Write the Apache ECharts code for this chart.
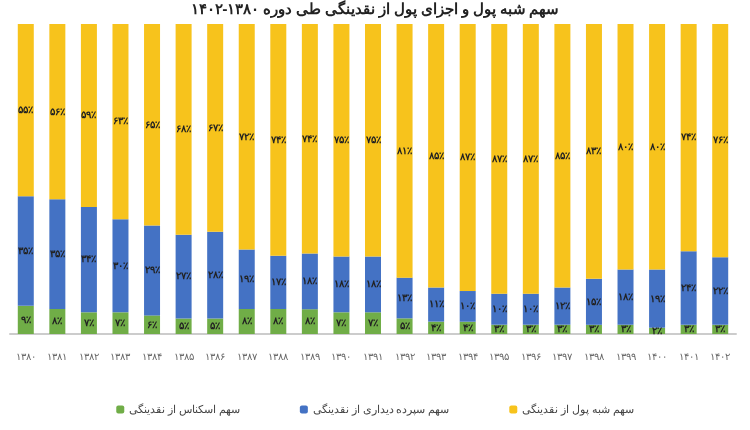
<!DOCTYPE html>
<html>
<head>
<meta charset="utf-8">
<script src="https://cdn.jsdelivr.net/npm/echarts@6/dist/echarts.min.js"></script>
<style>html,body{margin:0;padding:0;background:#fff}#c{width:750px;height:430px}</style>
</head>
<body>
<div id="c"></div>
<script>
var years = ['1380','1381','1382','1383','1384','1385','1386','1387','1388','1389','1390','1391','1392','1393','1394','1395','1396','1397','1398','1399','1400','1401','1402'];
var cash = [9,8,7,7,6,5,5,8,8,8,7,7,5,4,4,3,3,3,3,3,2,3,3];
var demand = [35,35,34,30,29,27,28,19,17,18,18,18,13,11,10,10,10,12,15,18,19,24,22];
var quasi = [55,56,59,63,65,68,67,72,74,74,75,75,81,85,87,87,87,85,83,80,80,74,76];

function fa(s) {
	return String(s).replace(/[0-9]/g, function (d) { return '۰۱۲۳۴۵۶۷۸۹'[d]; });
}
// every bar is drawn at full height (100% stacked), labels keep the read values
function share(arr) {
	return arr.map(function (v, i) {
		return { value: v / (cash[i] + demand[i] + quasi[i]) * 100, raw: v };
	});
}
var chart = echarts.init(document.getElementById('c'));
function lbl() {
	return {
		show: true, position: 'inside', color: '#222', fontSize: 10, fontWeight: 'bold',
		fontFamily: 'Noto Sans', formatter: function (p) { return fa(p.data.raw) + '٪'; }
	};
}
chart.setOption({
	title: {
		text: 'سهم شبه پول و اجزای پول از نقدینگی طی دوره ۱۳۸۰-۱۴۰۲',
		left: 'center', top: -3,
		textStyle: { fontSize: 15, fontWeight: 'bold', color: '#222', fontFamily: 'Noto Sans' }
	},
	legend: {
		bottom: 10, itemWidth: 8, itemHeight: 8, itemGap: 60,
		textStyle: { fontSize: 11, color: '#444', fontFamily: 'Noto Sans' },
		data: ['سهم اسکناس از نقدینگی', 'سهم سپرده دیداری از نقدینگی', 'سهم شبه پول از نقدینگی']
	},
	grid: { left: 10, right: 14, top: 24, bottom: 96 },
	xAxis: {
		type: 'category', data: years,
		axisLine: { lineStyle: { color: '#ccc', width: 2 } },
		axisTick: { show: false },
		axisLabel: { color: '#666', fontSize: 10, margin: 18, formatter: fa }
	},
	yAxis: { type: 'value', min: 0, max: 100, show: false },
	series: [
		{ name: 'سهم اسکناس از نقدینگی', type: 'bar', stack: 's', barWidth: 16, data: share(cash),
		  itemStyle: { color: '#70AD47' }, label: lbl() },
		{ name: 'سهم سپرده دیداری از نقدینگی', type: 'bar', stack: 's', data: share(demand),
		  itemStyle: { color: '#4472C4' }, label: lbl() },
		{ name: 'سهم شبه پول از نقدینگی', type: 'bar', stack: 's', data: share(quasi),
		  itemStyle: { color: '#F7C31C' }, label: lbl() }
	]
});
</script>
</body>
</html>
